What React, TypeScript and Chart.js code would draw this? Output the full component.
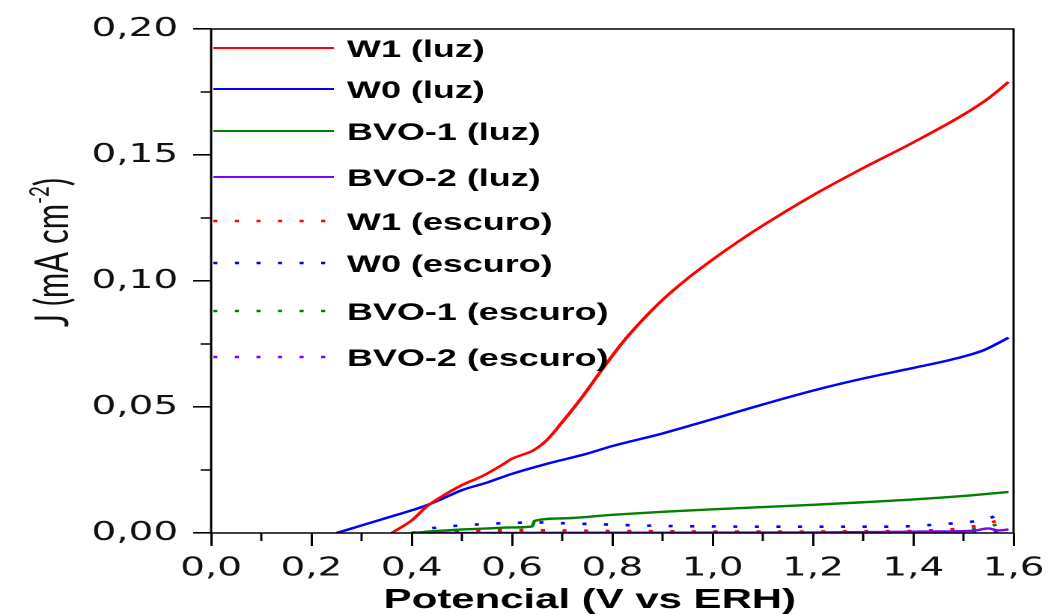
import React, { useEffect, useRef } from 'react';
import { Chart, registerables } from 'chart.js';

Chart.register(...registerables);

// ---------- data ----------
const W1_LUZ_X = [0.36, 0.40, 0.43, 0.46, 0.50, 0.54, 0.58, 0.60, 0.62, 0.64, 0.67, 0.70, 0.74, 0.78, 0.82, 0.86, 0.90, 0.95, 1.00, 1.05, 1.10, 1.20, 1.30, 1.40, 1.50, 1.55, 1.59];
const W1_LUZ_Y = [0, 0.005, 0.0105, 0.0145, 0.019, 0.0225, 0.027, 0.0295, 0.031, 0.0325, 0.037, 0.044, 0.054, 0.065, 0.0755, 0.0845, 0.0925, 0.101, 0.1085, 0.1155, 0.122, 0.134, 0.1448, 0.155, 0.166, 0.1725, 0.179];

const W0_LUZ_X = [0.25, 0.30, 0.35, 0.40, 0.43, 0.46, 0.50, 0.55, 0.60, 0.67, 0.75, 0.80, 0.90, 1.00, 1.10, 1.20, 1.30, 1.40, 1.48, 1.54, 1.59];
const W0_LUZ_Y = [0, 0.003, 0.006, 0.009, 0.011, 0.0135, 0.017, 0.020, 0.0235, 0.0275, 0.0315, 0.0345, 0.0395, 0.0452, 0.051, 0.0565, 0.0613, 0.0655, 0.069, 0.0725, 0.0775];

const BVO1_LUZ_X = [0.40, 0.45, 0.50, 0.55, 0.60, 0.64, 0.645, 0.70, 0.80, 0.90, 1.00, 1.10, 1.20, 1.30, 1.40, 1.50, 1.59];
const BVO1_LUZ_Y = [0, 0.0008, 0.0014, 0.0018, 0.0022, 0.0026, 0.0048, 0.0058, 0.0072, 0.0084, 0.0094, 0.0103, 0.0112, 0.0122, 0.0133, 0.0147, 0.0163];

const BVO2_LUZ_X = [0.40, 0.80, 1.20, 1.35, 1.45, 1.52, 1.55, 1.57, 1.59];
const BVO2_LUZ_Y = [0, 0.0001, 0.0002, 0.0004, 0.0006, 0.0009, 0.0018, 0.0010, 0.0014];

const W1_ESC_X = [0.40, 0.50, 0.60, 0.70, 0.80, 0.90, 1.00, 1.10, 1.20, 1.30, 1.40, 1.45, 1.49, 1.53, 1.57, 1.59];
const W1_ESC_Y = [0, 0.0010, 0.0012, 0.0010, 0.0008, 0.0007, 0.0006, 0.0006, 0.0006, 0.0007, 0.0008, 0.0012, 0.0017, 0.0030, 0.0050, 0.0062];

const W0_ESC_X = [0.40, 0.45, 0.50, 0.55, 0.60, 0.65, 0.70, 0.80, 0.90, 1.00, 1.10, 1.20, 1.30, 1.38, 1.42, 1.46, 1.50, 1.55, 1.59];
const W0_ESC_Y = [0, 0.0022, 0.0030, 0.0036, 0.0040, 0.0042, 0.0039, 0.0033, 0.0028, 0.0026, 0.0025, 0.0025, 0.0025, 0.0026, 0.0030, 0.0036, 0.0041, 0.0058, 0.0092];

const BVO1_ESC_X = [0.40, 0.60, 0.80, 1.00, 1.20, 1.40, 1.48, 1.52, 1.56, 1.59];
const BVO1_ESC_Y = [0, 0.0004, 0.0004, 0.0003, 0.0003, 0.0005, 0.0009, 0.0016, 0.0030, 0.0058];

const BVO2_ESC_X = [0.40, 0.80, 1.20, 1.50, 1.59];
const BVO2_ESC_Y = [0, 0.0003, 0.0002, 0.0004, 0.0009];

const LABELS = ['W1 (luz)', 'W0 (luz)', 'BVO-1 (luz)', 'BVO-2 (luz)', 'W1 (escuro)', 'W0 (escuro)', 'BVO-1 (escuro)', 'BVO-2 (escuro)'];
const COLORS = ['#ff0000', '#0000ff', '#008000', '#8000ff', '#ff0000', '#0000ff', '#008000', '#8000ff'];

const X_MIN = 0, X_MAX = 1.6, X_STEP = 0.2;
const Y_MIN = 0, Y_MAX = 0.2, Y_STEP = 0.05;
const X_MINOR = [0.1, 0.3, 0.5, 0.7, 0.9, 1.1, 1.3, 1.5];
const Y_MINOR = [0.025, 0.075, 0.125, 0.175];

const X_TITLE = 'Potencial (V vs ERH)';
const Y_TITLE_MAIN = 'J (mA cm';
const Y_TITLE_SUP = '-2';
const Y_TITLE_END = ')';

// ---------- layout (logical canvas is stretched horizontally) ----------
const LOGICAL_W = 700;
const H = 614;
const DISPLAY_W = 1048;
const DOT_DASH = [2.7, 11.7];
const LEGEND_ROWS = [48, 89, 131, 177, 221, 263, 311, 357];

const pts = (xs: number[], ys: number[]) => xs.map((x, i) => ({ x, y: ys[i] }));

const SERIES: [number[], number[]][] = [
  [W1_LUZ_X, W1_LUZ_Y],
  [W0_LUZ_X, W0_LUZ_Y],
  [BVO1_LUZ_X, BVO1_LUZ_Y],
  [BVO2_LUZ_X, BVO2_LUZ_Y],
  [W1_ESC_X, W1_ESC_Y],
  [W0_ESC_X, W0_ESC_Y],
  [BVO1_ESC_X, BVO1_ESC_Y],
  [BVO2_ESC_X, BVO2_ESC_Y],
];

const framePlugin = {
  id: 'frameAndExtras',
  afterDatasetsDraw(chart: any) {
    const { ctx, chartArea } = chart;
    const xs = chart.scales.x;
    const ys = chart.scales.y;
    ctx.save();
    ctx.strokeStyle = '#000';
    ctx.lineWidth = 1.5;
    ctx.setLineDash([]);
    ctx.strokeRect(chartArea.left, chartArea.top, chartArea.right - chartArea.left, chartArea.bottom - chartArea.top);
    ctx.beginPath();
    X_MINOR.forEach((v) => {
      const px = xs.getPixelForValue(v);
      ctx.moveTo(px, chartArea.bottom);
      ctx.lineTo(px, chartArea.bottom + 8);
    });
    Y_MINOR.forEach((v) => {
      const py = ys.getPixelForValue(v);
      ctx.moveTo(chartArea.left, py);
      ctx.lineTo(chartArea.left - 7, py);
    });
    ctx.stroke();
    ctx.restore();
  },
  afterDraw(chart: any) {
    const { ctx } = chart;
    ctx.save();
    // legend
    chart.data.datasets.forEach((ds: any, i: number) => {
      const y = LEGEND_ROWS[i];
      ctx.beginPath();
      ctx.strokeStyle = ds.borderColor;
      ctx.lineWidth = ds.borderDash ? 2.6 : 2;
      ctx.setLineDash(ds.borderDash || []);
      ctx.moveTo(142.5, y);
      ctx.lineTo(ds.borderDash ? 219 : 223, y);
      ctx.stroke();
      ctx.setLineDash([]);
      ctx.fillStyle = '#000';
      ctx.font = 'bold 24px "Liberation Sans", Arial, sans-serif';
      ctx.textBaseline = 'alphabetic';
      ctx.textAlign = 'left';
      ctx.fillText(ds.label, 231.8, y + 8.8);
    });
    // x title
    ctx.font = 'bold 28px "Liberation Sans", Arial, sans-serif';
    ctx.textAlign = 'center';
    ctx.fillStyle = '#000';
    ctx.fillText(X_TITLE, 394, 608);
    // y title
    const fam = 'Lato, "Open Sans", sans-serif';
    ctx.font = `100px ${fam}`;
    const base = ctx.measureText(Y_TITLE_MAIN).width + ctx.measureText(Y_TITLE_END).width;
    ctx.font = `60px ${fam}`;
    const baseSup = ctx.measureText(Y_TITLE_SUP).width;
    const F = (149 / (base + baseSup)) * 100;
    ctx.translate(45.5, 252.5);
    ctx.rotate(-Math.PI / 2);
    ctx.textAlign = 'left';
    ctx.fillStyle = '#111';
    ctx.font = `${F}px ${fam}`;
    const wMain = ctx.measureText(Y_TITLE_MAIN).width;
    ctx.font = `${F * 0.6}px ${fam}`;
    const wSup = ctx.measureText(Y_TITLE_SUP).width;
    ctx.font = `${F}px ${fam}`;
    const wEnd = ctx.measureText(Y_TITLE_END).width;
    let x = -(wMain + wSup + wEnd) / 2;
    ctx.fillText(Y_TITLE_MAIN, x, 0);
    x += wMain;
    ctx.font = `${F * 0.6}px ${fam}`;
    ctx.fillText(Y_TITLE_SUP, x, -F * 0.42);
    x += wSup;
    ctx.font = `${F}px ${fam}`;
    ctx.fillText(Y_TITLE_END, x, 0);
    ctx.restore();
  },
};

export default function App() {
  const ref = useRef<HTMLCanvasElement>(null);
  useEffect(() => {
    const canvas = ref.current!;
    const datasets = SERIES.map(([xs, ys], i) => {
      const dark = i >= 4;
      return {
        label: LABELS[i],
        data: pts(xs, ys),
        borderColor: COLORS[i],
        backgroundColor: COLORS[i],
        borderWidth: dark ? 2.6 : 2.4,
        borderDash: dark ? DOT_DASH : undefined,
        pointRadius: 0,
        fill: false,
        cubicInterpolationMode: 'monotone' as const,
      };
    });
    const tickFont = { family: '"DejaVu Sans", sans-serif', size: 26 };
    const chart = new Chart(canvas, {
      type: 'line',
      data: { datasets },
      options: {
        responsive: false,
        devicePixelRatio: 2,
        animation: false,
        layout: { padding: { left: 0, top: 29, right: 23, bottom: 0 } },
        plugins: { legend: { display: false }, tooltip: { enabled: false }, title: { display: false } },
        scales: {
          x: {
            type: 'linear',
            min: X_MIN,
            max: X_MAX,
            border: { display: false },
            grid: { drawOnChartArea: false, drawTicks: true, tickLength: 13, color: '#000', lineWidth: 1.5 },
            ticks: {
              stepSize: X_STEP,
              padding: 7,
              color: '#111',
              font: tickFont,
              maxRotation: 0,
              autoSkip: false,
              callback: (v: any) => Number(v).toFixed(1).replace('.', ','),
            },
            afterFit: (s: any) => { s.height = 81; s.paddingLeft = 0; s.paddingRight = 0; },
          },
          y: {
            type: 'linear',
            min: Y_MIN,
            max: Y_MAX,
            border: { display: false },
            grid: { drawOnChartArea: false, drawTicks: true, tickLength: 12, color: '#000', lineWidth: 1.6 },
            ticks: {
              stepSize: Y_STEP,
              padding: 10,
              color: '#111',
              font: tickFont,
              callback: (v: any) => Number(v).toFixed(2).replace('.', ','),
            },
            afterFit: (s: any) => { s.width = 141; s.paddingTop = 0; s.paddingBottom = 0; },
          },
        },
      },
      plugins: [framePlugin],
    } as any);
    return () => chart.destroy();
  }, []);
  return (
    <div style={{ position: 'absolute', left: 0, top: 0, width: DISPLAY_W, height: H, overflow: 'hidden', background: '#fff' }}>
      <canvas
        ref={ref}
        width={LOGICAL_W}
        height={H}
        style={{ width: `${DISPLAY_W}px`, height: `${H}px`, display: 'block' }}
      />
    </div>
  );
}
